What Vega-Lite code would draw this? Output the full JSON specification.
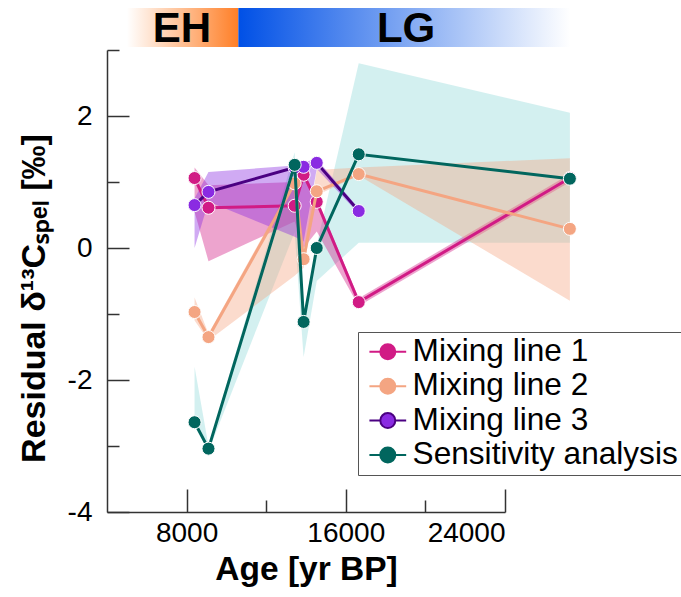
{
  "$schema": "https://vega.github.io/schema/vega-lite/v6.json",
  "width": 398,
  "height": 462,
  "autosize": {"type": "none"},
  "padding": {"left": 107, "top": 50, "right": 176, "bottom": 85},
  "background": "white",
  "datasets": {
    "pts": [
      {"s": "Mixing line 1", "age": 8400, "v": 1.06, "lo": 0.55, "hi": 1.22},
      {"s": "Mixing line 1", "age": 9100, "v": 0.61, "lo": -0.2, "hi": 0.95},
      {"s": "Mixing line 1", "age": 13430, "v": 0.64, "lo": 0.4, "hi": 1.0},
      {"s": "Mixing line 1", "age": 13880, "v": 1.11, "lo": 0.0, "hi": 1.15},
      {"s": "Mixing line 1", "age": 14540, "v": 0.70, "lo": 0.25, "hi": 0.75},
      {"s": "Mixing line 1", "age": 16650, "v": -0.82, "lo": -0.88, "hi": -0.76},
      {"s": "Mixing line 1", "age": 27260, "v": 1.06, "lo": 1.0, "hi": 1.12},
      {"s": "Mixing line 2", "age": 8400, "v": -0.97, "lo": -1.1, "hi": -0.75},
      {"s": "Mixing line 2", "age": 9100, "v": -1.35, "lo": -1.4, "hi": -1.3},
      {"s": "Mixing line 2", "age": 13430, "v": 0.98, "lo": -0.42, "hi": 1.05},
      {"s": "Mixing line 2", "age": 13880, "v": -0.17, "lo": -0.3, "hi": -0.05},
      {"s": "Mixing line 2", "age": 14540, "v": 0.86, "lo": 0.8, "hi": 1.18},
      {"s": "Mixing line 2", "age": 16650, "v": 1.12, "lo": 1.1, "hi": 1.22},
      {"s": "Mixing line 2", "age": 27260, "v": 0.29, "lo": -0.8, "hi": 1.36},
      {"s": "Mixing line 3", "age": 8400, "v": 0.65, "lo": 0.0, "hi": 0.75},
      {"s": "Mixing line 3", "age": 9100, "v": 0.85, "lo": 0.7, "hi": 1.15},
      {"s": "Mixing line 3", "age": 13430, "v": 1.22, "lo": 0.17, "hi": 1.25},
      {"s": "Mixing line 3", "age": 13880, "v": 1.23, "lo": 0.1, "hi": 1.3},
      {"s": "Mixing line 3", "age": 14540, "v": 1.29, "lo": 1.2, "hi": 1.35},
      {"s": "Mixing line 3", "age": 16650, "v": 0.56, "lo": 0.52, "hi": 0.6},
      {"s": "Sensitivity analysis", "age": 8400, "v": -2.64, "lo": -2.7, "hi": -1.8},
      {"s": "Sensitivity analysis", "age": 9100, "v": -3.04, "lo": -3.08, "hi": -3.0},
      {"s": "Sensitivity analysis", "age": 13430, "v": 1.26, "lo": 0.24, "hi": 1.45},
      {"s": "Sensitivity analysis", "age": 13880, "v": -1.12, "lo": -1.65, "hi": -1.0},
      {"s": "Sensitivity analysis", "age": 14540, "v": 0.0, "lo": -0.5, "hi": 0.05},
      {"s": "Sensitivity analysis", "age": 16650, "v": 1.42, "lo": 0.08, "hi": 2.8},
      {"s": "Sensitivity analysis", "age": 27260, "v": 1.05, "lo": 0.08, "hi": 2.05}
    ],
    "bar": [
      {"p": "EH", "a": 5000, "b": 10600, "lo": 3.045, "hi": 3.636},
      {"p": "LG", "a": 10600, "b": 27270, "lo": 3.045, "hi": 3.636}
    ],
    "lab": [
      {"t": "EH", "age": 7770, "y": 3.32},
      {"t": "LG", "age": 19030, "y": 3.32}
    ]
  },
  "config": {
    "view": {"stroke": null},
    "font": "Liberation Sans",
    "axis": {
      "grid": false,
      "domainColor": "#333333",
      "domainWidth": 1.5,
      "tickColor": "#333333",
      "tickWidth": 1.5,
      "labelFont": "Liberation Sans",
      "labelFontSize": 28,
      "labelColor": "black",
      "titleFont": "Liberation Sans",
      "titleFontWeight": "bold",
      "titleColor": "black"
    },
    "legend": {
      "orient": "none",
      "legendX": 251,
      "legendY": 282,
      "padding": 4,
      "strokeColor": "#555555",
      "fillColor": "white",
      "labelFont": "Liberation Sans",
      "labelFontSize": 31.6,
      "labelColor": "black",
      "labelLimit": 0,
      "symbolType": "M -2.45 0 L -1 0 M 1 0 L 2.45 0 M 1 0 A 1 1 0 1 1 -1 0 A 1 1 0 1 1 1 0",
      "symbolSize": 225,
      "symbolStrokeWidth": 2,
      "symbolOffset": 10,
      "labelOffset": 9,
      "rowPadding": 1.4
    }
  },
  "layer": [
    {
      "data": {"name": "pts"},
      "transform": [{"filter": "datum.s == 'Sensitivity analysis'"}],
      "mark": {"type": "area", "fill": "#a8e2e2", "opacity": 0.5},
      "encoding": {
        "x": {
          "field": "age", "type": "quantitative", "title": "Age [yr BP]",
          "scale": {"domain": [4000, 24000], "nice": false, "zero": false},
          "axis": {
            "values": [8000, 12000, 16000, 20000, 24000],
            "labelExpr": "datum.value % 8000 == 0 ? '' + datum.value : ''",
            "tickSize": {"condition": {"test": "datum.value % 8000 == 0", "value": -23}, "value": -12},
            "labelPadding": 30,
            "titleFontSize": 33.5,
            "titlePadding": 6
          }
        },
        "y": {
          "field": "lo", "type": "quantitative", "title": "Residual δ¹³Cₛₚₑₗ [‰]",
          "scale": {"domain": [-4, 3], "nice": false, "zero": false},
          "axis": {
            "values": [-4, -3, -2, -1, 0, 1, 2, 3],
            "labelExpr": "datum.value % 2 == 0 ? '' + datum.value : ''",
            "tickSize": {"condition": {"test": "datum.value % 2 == 0", "value": -22}, "value": -12},
            "labelPadding": 37,
            "titleFontSize": 34,
            "titlePadding": 16,
            "titleY": 248
          }
        },
        "y2": {"field": "hi"}
      }
    },
    {
      "data": {"name": "pts"},
      "transform": [{"filter": "datum.s != 'Sensitivity analysis'"}],
      "mark": {"type": "area", "opacity": 0.4},
      "encoding": {
        "x": {"field": "age", "type": "quantitative", "title": "Age [yr BP]", "scale": {"domain": [4000, 24000], "nice": false, "zero": false}},
        "y": {"field": "lo", "type": "quantitative", "title": "Residual δ¹³Cₛₚₑₗ [‰]", "scale": {"domain": [-4, 3], "nice": false, "zero": false}},
        "y2": {"field": "hi"},
        "fill": {"field": "s", "type": "nominal", "scale": {"domain": ["Mixing line 1", "Mixing line 2", "Mixing line 3", "Sensitivity analysis"], "range": ["#d11b85", "#f4a582", "#8a2be2", "#01665e"]}, "legend": {"title": null, "encode": {"symbols": {"update": {"fill": {"scale": "fill", "field": "value"}, "stroke": {"scale": "stroke", "field": "value"}, "opacity": {"value": 1}}}}}}
      }
    },
    {
      "data": {"name": "pts"},
      "transform": [{"filter": "datum.s == 'Mixing line 1'"}],
      "mark": {"type": "line", "strokeWidth": 3},
      "encoding": {
        "x": {"field": "age", "type": "quantitative", "title": "Age [yr BP]", "scale": {"domain": [4000, 24000], "nice": false, "zero": false}},
        "y": {"field": "v", "type": "quantitative", "title": "Residual δ¹³Cₛₚₑₗ [‰]", "scale": {"domain": [-4, 3], "nice": false, "zero": false}},
        "stroke": {"field": "s", "type": "nominal", "scale": {"domain": ["Mixing line 1", "Mixing line 2", "Mixing line 3", "Sensitivity analysis"], "range": ["#d11b85", "#f4a582", "#4b0082", "#01665e"]}, "legend": {"title": null, "encode": {"symbols": {"update": {"fill": {"scale": "fill", "field": "value"}, "stroke": {"scale": "stroke", "field": "value"}, "opacity": {"value": 1}}}}}}
      }
    },
    {
      "data": {"name": "pts"},
      "transform": [{"filter": "datum.s == 'Mixing line 1'"}],
      "mark": {"type": "point", "filled": true, "size": 170, "stroke": "white", "strokeWidth": 1, "opacity": 1},
      "encoding": {
        "x": {"field": "age", "type": "quantitative", "title": "Age [yr BP]", "scale": {"domain": [4000, 24000], "nice": false, "zero": false}},
        "y": {"field": "v", "type": "quantitative", "title": "Residual δ¹³Cₛₚₑₗ [‰]", "scale": {"domain": [-4, 3], "nice": false, "zero": false}},
        "fill": {"field": "s", "type": "nominal", "scale": {"domain": ["Mixing line 1", "Mixing line 2", "Mixing line 3", "Sensitivity analysis"], "range": ["#d11b85", "#f4a582", "#8a2be2", "#01665e"]}, "legend": {"title": null, "encode": {"symbols": {"update": {"fill": {"scale": "fill", "field": "value"}, "stroke": {"scale": "stroke", "field": "value"}, "opacity": {"value": 1}}}}}}
      }
    },
    {
      "data": {"name": "pts"},
      "transform": [{"filter": "datum.s == 'Mixing line 2'"}],
      "mark": {"type": "line", "strokeWidth": 3},
      "encoding": {
        "x": {"field": "age", "type": "quantitative", "title": "Age [yr BP]", "scale": {"domain": [4000, 24000], "nice": false, "zero": false}},
        "y": {"field": "v", "type": "quantitative", "title": "Residual δ¹³Cₛₚₑₗ [‰]", "scale": {"domain": [-4, 3], "nice": false, "zero": false}},
        "stroke": {"field": "s", "type": "nominal", "scale": {"domain": ["Mixing line 1", "Mixing line 2", "Mixing line 3", "Sensitivity analysis"], "range": ["#d11b85", "#f4a582", "#4b0082", "#01665e"]}, "legend": {"title": null, "encode": {"symbols": {"update": {"fill": {"scale": "fill", "field": "value"}, "stroke": {"scale": "stroke", "field": "value"}, "opacity": {"value": 1}}}}}}
      }
    },
    {
      "data": {"name": "pts"},
      "transform": [{"filter": "datum.s == 'Mixing line 2'"}],
      "mark": {"type": "point", "filled": true, "size": 170, "stroke": "white", "strokeWidth": 1, "opacity": 1},
      "encoding": {
        "x": {"field": "age", "type": "quantitative", "title": "Age [yr BP]", "scale": {"domain": [4000, 24000], "nice": false, "zero": false}},
        "y": {"field": "v", "type": "quantitative", "title": "Residual δ¹³Cₛₚₑₗ [‰]", "scale": {"domain": [-4, 3], "nice": false, "zero": false}},
        "fill": {"field": "s", "type": "nominal", "scale": {"domain": ["Mixing line 1", "Mixing line 2", "Mixing line 3", "Sensitivity analysis"], "range": ["#d11b85", "#f4a582", "#8a2be2", "#01665e"]}, "legend": {"title": null, "encode": {"symbols": {"update": {"fill": {"scale": "fill", "field": "value"}, "stroke": {"scale": "stroke", "field": "value"}, "opacity": {"value": 1}}}}}}
      }
    },
    {
      "data": {"name": "pts"},
      "transform": [{"filter": "datum.s == 'Mixing line 3'"}],
      "mark": {"type": "line", "strokeWidth": 3},
      "encoding": {
        "x": {"field": "age", "type": "quantitative", "title": "Age [yr BP]", "scale": {"domain": [4000, 24000], "nice": false, "zero": false}},
        "y": {"field": "v", "type": "quantitative", "title": "Residual δ¹³Cₛₚₑₗ [‰]", "scale": {"domain": [-4, 3], "nice": false, "zero": false}},
        "stroke": {"field": "s", "type": "nominal", "scale": {"domain": ["Mixing line 1", "Mixing line 2", "Mixing line 3", "Sensitivity analysis"], "range": ["#d11b85", "#f4a582", "#4b0082", "#01665e"]}, "legend": {"title": null, "encode": {"symbols": {"update": {"fill": {"scale": "fill", "field": "value"}, "stroke": {"scale": "stroke", "field": "value"}, "opacity": {"value": 1}}}}}}
      }
    },
    {
      "data": {"name": "pts"},
      "transform": [{"filter": "datum.s == 'Mixing line 3'"}],
      "mark": {"type": "point", "filled": true, "size": 170, "stroke": "white", "strokeWidth": 1, "opacity": 1},
      "encoding": {
        "x": {"field": "age", "type": "quantitative", "title": "Age [yr BP]", "scale": {"domain": [4000, 24000], "nice": false, "zero": false}},
        "y": {"field": "v", "type": "quantitative", "title": "Residual δ¹³Cₛₚₑₗ [‰]", "scale": {"domain": [-4, 3], "nice": false, "zero": false}},
        "fill": {"field": "s", "type": "nominal", "scale": {"domain": ["Mixing line 1", "Mixing line 2", "Mixing line 3", "Sensitivity analysis"], "range": ["#d11b85", "#f4a582", "#8a2be2", "#01665e"]}, "legend": {"title": null, "encode": {"symbols": {"update": {"fill": {"scale": "fill", "field": "value"}, "stroke": {"scale": "stroke", "field": "value"}, "opacity": {"value": 1}}}}}}
      }
    },
    {
      "data": {"name": "pts"},
      "transform": [{"filter": "datum.s == 'Sensitivity analysis'"}],
      "mark": {"type": "line", "strokeWidth": 3},
      "encoding": {
        "x": {"field": "age", "type": "quantitative", "title": "Age [yr BP]", "scale": {"domain": [4000, 24000], "nice": false, "zero": false}},
        "y": {"field": "v", "type": "quantitative", "title": "Residual δ¹³Cₛₚₑₗ [‰]", "scale": {"domain": [-4, 3], "nice": false, "zero": false}},
        "stroke": {"field": "s", "type": "nominal", "scale": {"domain": ["Mixing line 1", "Mixing line 2", "Mixing line 3", "Sensitivity analysis"], "range": ["#d11b85", "#f4a582", "#4b0082", "#01665e"]}, "legend": {"title": null, "encode": {"symbols": {"update": {"fill": {"scale": "fill", "field": "value"}, "stroke": {"scale": "stroke", "field": "value"}, "opacity": {"value": 1}}}}}}
      }
    },
    {
      "data": {"name": "pts"},
      "transform": [{"filter": "datum.s == 'Sensitivity analysis'"}],
      "mark": {"type": "point", "filled": true, "size": 170, "stroke": "white", "strokeWidth": 1, "opacity": 1},
      "encoding": {
        "x": {"field": "age", "type": "quantitative", "title": "Age [yr BP]", "scale": {"domain": [4000, 24000], "nice": false, "zero": false}},
        "y": {"field": "v", "type": "quantitative", "title": "Residual δ¹³Cₛₚₑₗ [‰]", "scale": {"domain": [-4, 3], "nice": false, "zero": false}},
        "fill": {"field": "s", "type": "nominal", "scale": {"domain": ["Mixing line 1", "Mixing line 2", "Mixing line 3", "Sensitivity analysis"], "range": ["#d11b85", "#f4a582", "#8a2be2", "#01665e"]}, "legend": {"title": null, "encode": {"symbols": {"update": {"fill": {"scale": "fill", "field": "value"}, "stroke": {"scale": "stroke", "field": "value"}, "opacity": {"value": 1}}}}}}
      }
    },
    {
      "data": {"name": "bar"},
      "transform": [{"filter": "datum.p == 'EH'"}],
      "mark": {"type": "rect", "fill": {"gradient": "linear", "x1": 0, "y1": 0, "x2": 1, "y2": 0, "stops": [{"offset": 0, "color": "#ffffff"}, {"offset": 1, "color": "#ff7f27"}]}},
      "encoding": {
        "x": {"field": "a", "type": "quantitative", "title": "Age [yr BP]", "scale": {"domain": [4000, 24000], "nice": false, "zero": false}},
        "x2": {"field": "b"},
        "y": {"field": "lo", "type": "quantitative", "title": "Residual δ¹³Cₛₚₑₗ [‰]", "scale": {"domain": [-4, 3], "nice": false, "zero": false}},
        "y2": {"field": "hi"}
      }
    },
    {
      "data": {"name": "bar"},
      "transform": [{"filter": "datum.p == 'LG'"}],
      "mark": {"type": "rect", "fill": {"gradient": "linear", "x1": 0, "y1": 0, "x2": 1, "y2": 0, "stops": [{"offset": 0, "color": "#0050e6"}, {"offset": 1, "color": "#ffffff"}]}},
      "encoding": {
        "x": {"field": "a", "type": "quantitative", "title": "Age [yr BP]", "scale": {"domain": [4000, 24000], "nice": false, "zero": false}},
        "x2": {"field": "b"},
        "y": {"field": "lo", "type": "quantitative", "title": "Residual δ¹³Cₛₚₑₗ [‰]", "scale": {"domain": [-4, 3], "nice": false, "zero": false}},
        "y2": {"field": "hi"}
      }
    },
    {
      "data": {"name": "lab"},
      "mark": {"type": "text", "font": "Liberation Sans", "fontSize": 42, "fontWeight": "bold", "color": "black", "align": "center", "baseline": "middle"},
      "encoding": {
        "x": {"field": "age", "type": "quantitative", "title": "Age [yr BP]", "scale": {"domain": [4000, 24000], "nice": false, "zero": false}},
        "y": {"field": "y", "type": "quantitative", "title": "Residual δ¹³Cₛₚₑₗ [‰]", "scale": {"domain": [-4, 3], "nice": false, "zero": false}},
        "text": {"field": "t"}
      }
    }
  ]
}
